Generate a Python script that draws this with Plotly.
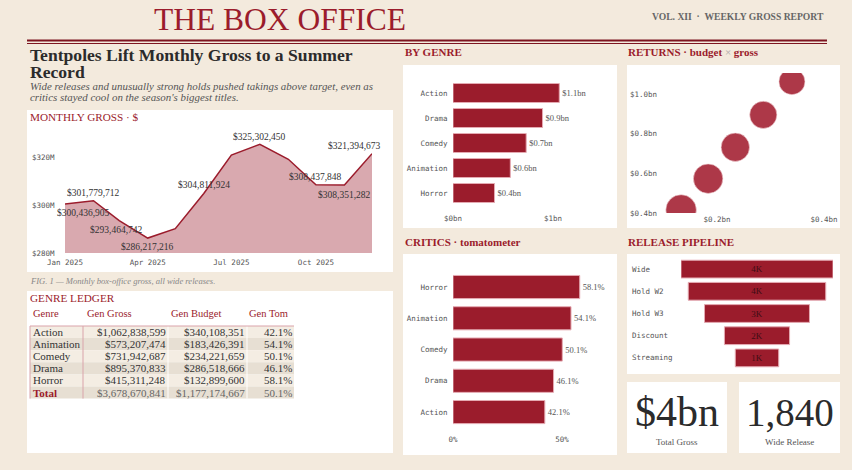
import plotly.graph_objects as go

W, H = 852, 470
SERIF = "Liberation Serif"
MONO = "DejaVu Sans Mono"
RED = "#9b1c2c"
BG = "#f3eadd"
INK = "#2b2b2b"
GREY = "#555555"

# ---------------- data ----------------
months = ["2025-01-01", "2025-02-01", "2025-03-01", "2025-04-01", "2025-05-01", "2025-06-01",
          "2025-07-01", "2025-08-01", "2025-09-01", "2025-10-01", "2025-11-01", "2025-12-01"]
monthly_gross = [300436905, 301779712, 293464742, 286217216, 290118540, 304811924,
                 320842310, 325302450, 319046520, 308437848, 308351282, 321394673]
labeled_months = [0, 1, 2, 3, 5, 7, 9, 10, 11]
monthly_ticks = [280e6, 300e6, 320e6]

genres = ["Action", "Animation", "Comedy", "Drama", "Horror"]
gen_gross = [1062838599, 573207474, 731942687, 895370833, 415311248]
gen_budget = [340108351, 183426391, 234221659, 286518666, 132899600]
gen_tom = [42.1, 54.1, 50.1, 46.1, 58.1]
ledger_headers = ["Genre", "Gen Gross", "Gen Budget", "Gen Tom"]

pipeline_stages = ["Wide", "Hold W2", "Hold W3", "Discount", "Streaming"]
pipeline_counts = [4200, 3800, 2900, 1800, 1200]

wide_release = 1840

# ---------------- helpers ----------------
def fx(x):
    return x / W


def fy(y):
    return 1 - y / H


def dom_x(a, b):
    return [a / W, b / W]


def dom_y(top, bottom):
    return [1 - bottom / H, 1 - top / H]


shapes = []
annotations = []


def rect(x0, y0, x1, y1, color="#ffffff"):
    shapes.append(dict(type="rect", xref="paper", yref="paper", x0=fx(x0), x1=fx(x1),
                       y0=fy(y1), y1=fy(y0), fillcolor=color, line=dict(width=0), layer="below"))


def hline(x0, x1, y, color, width):
    shapes.append(dict(type="line", xref="paper", yref="paper", x0=fx(x0), x1=fx(x1),
                       y0=fy(y), y1=fy(y), line=dict(color=color, width=width)))


def vline(x, y0, y1, color, width):
    shapes.append(dict(type="line", xref="paper", yref="paper", x0=fx(x), x1=fx(x),
                       y0=fy(y0), y1=fy(y1), line=dict(color=color, width=width)))


def text(x, y, s, size, color=INK, family=SERIF, xanchor="left", yanchor="middle", align="left"):
    if xanchor == "left":
        x -= 2
    elif xanchor == "right":
        x += 2
    annotations.append(dict(xref="paper", yref="paper", x=fx(x), y=fy(y), text=s, showarrow=False,
                            xanchor=xanchor, yanchor=yanchor, align=align, borderpad=0,
                            font=dict(family=family, size=size, color=color)))


# ---------------- panels ----------------
rect(27, 110, 393, 272)
rect(27, 291, 393, 453)
rect(403, 65, 617, 228)
rect(627, 65, 840, 228)
rect(403, 254, 617, 455)
rect(627, 254, 840, 374)
rect(627, 382, 727, 453)
rect(739, 382, 840, 453)

# masthead
text(280, 19, "THE BOX OFFICE", 31.5, RED, xanchor="center")
text(823, 16, "<b>VOL. XII  ·  WEEKLY GROSS REPORT</b>", 9.6, "#666666", xanchor="right")
hline(27, 827, 40.5, "#7d1420", 2.2)
hline(27, 827, 43.5, "#7d1420", 1)

text(31, 55, "<b>Tentpoles Lift Monthly Gross to a Summer</b>", 17.6, INK)
text(31, 72, "<b>Record</b>", 17.6, INK)
text(31, 85.5, "<i>Wide releases and unusually strong holds pushed takings above target, even as</i>",
     10.9, GREY)
text(31, 96.5, "<i>critics stayed cool on the season's biggest titles.</i>", 10.9, GREY)

text(31, 117, "MONTHLY GROSS · $", 11.2, RED)
text(31, 281, "<i>FIG. 1 — Monthly box-office gross, all wide releases.</i>", 8.6, "#888888")
text(31, 298, "GENRE LEDGER", 11.2, RED)
text(406, 52, "<b>BY GENRE</b>", 11, RED)
text(629, 52, "<b>RETURNS · budget </b><span style='color:#b0a8a8'>×</span><b> gross</b>", 11, RED)
text(406, 242, "<b>CRITICS · tomatometer</b>", 11, RED)
text(629, 242, "<b>RELEASE PIPELINE</b>", 11, RED)

# KPI cards
total_gross = sum(gen_gross)
text(677, 412, f"${total_gross / 1e9:.0f}bn", 42, INK, xanchor="center")
text(677, 442, "Total Gross", 9, GREY, xanchor="center")
text(789.5, 412, f"{wide_release:,}", 39, INK, xanchor="center")
text(789.5, 442, "Wide Release", 9, GREY, xanchor="center")

traces = []

# ---------------- monthly gross ----------------
traces.append(go.Scatter(x=months, y=monthly_gross, mode="lines", fill="tozeroy",
                         fillcolor="rgba(155,28,44,0.38)", line=dict(color=RED, width=1.5),
                         xaxis="x", yaxis="y", hoverinfo="skip"))
label_shift = {0: (18, -9), 1: (0, 8), 2: (-3, -9), 3: (0, -9), 5: (0, 8), 7: (0, 7),
               9: (0, 8), 10: (0, -10), 11: (-18, 8)}
for i in labeled_months:
    dx, dy = label_shift[i]
    annotations.append(dict(xref="x", yref="y", x=months[i], y=monthly_gross[i],
                            text=f"${monthly_gross[i]:,}", showarrow=False,
                            xshift=dx, yshift=dy, font=dict(family=SERIF, size=9.5, color="#333333")))

# ---------------- by genre ----------------
order_g = sorted(range(len(genres)), key=lambda i: -gen_gross[i])
bg_names = [genres[i] for i in order_g]
bg_vals = [gen_gross[i] for i in order_g]
traces.append(go.Bar(y=bg_names, x=bg_vals, orientation="h", width=0.76,
                     marker=dict(color=RED, line=dict(color="#e4aab2", width=1)),
                     text=[f"${v / 1e9:.1f}bn" for v in bg_vals], textposition="outside",
                     textfont=dict(family=SERIF, size=8.5, color=GREY), cliponaxis=False,
                     xaxis="x2", yaxis="y2", hoverinfo="skip"))

# ---------------- returns ----------------
traces.append(go.Scatter(x=gen_budget, y=gen_gross, mode="markers",
                         marker=dict(size=gen_tom, sizemode="area", sizeref=58.1 / 29 ** 2 * 1.8,
                                     color="#ad3848", opacity=1, line=dict(color="#f3d6da", width=0.6)),
                         xaxis="x3", yaxis="y3", hoverinfo="skip"))

# ---------------- critics ----------------
order_c = sorted(range(len(genres)), key=lambda i: -gen_tom[i])
cr_names = [genres[i] for i in order_c]
cr_vals = [gen_tom[i] for i in order_c]
traces.append(go.Bar(y=cr_names, x=cr_vals, orientation="h", width=0.74,
                     marker=dict(color=RED, line=dict(color="#e4aab2", width=1)),
                     text=[f"{v:.1f}%" for v in cr_vals], textposition="outside",
                     textfont=dict(family=SERIF, size=8.5, color=GREY), cliponaxis=False,
                     xaxis="x4", yaxis="y4", hoverinfo="skip"))

# ---------------- pipeline ----------------
traces.append(go.Funnel(y=pipeline_stages, x=pipeline_counts,
                        text=[f"{round(v / 1000)}K" for v in pipeline_counts], textinfo="text",
                        textposition="inside", insidetextanchor="middle",
                        textfont=dict(family=SERIF, size=9, color="#3e0c14"),
                        insidetextfont=dict(family=SERIF, size=9, color="#3e0c14"),
                        marker=dict(color=RED, line=dict(color="#e4aab2", width=1)),
                        connector=dict(visible=False), xaxis="x5", yaxis="y5", hoverinfo="skip"))
for s in pipeline_stages:
    annotations.append(dict(xref="paper", yref="y5", x=fx(629.5), y=s, text=s, showarrow=False,
                            xanchor="left", font=dict(family=MONO, size=7.5, color=GREY)))

# ---------------- ledger table (built from the genre arrays) ----------------
rows_n = len(genres)
col_genre = genres + ["<b>Total</b>"]
col_gross = [f"${v:,}" for v in gen_gross] + [f"${sum(gen_gross):,}"]
col_budget = [f"${v:,}" for v in gen_budget] + [f"${sum(gen_budget):,}"]
col_tom = [f"{v:.1f}%" for v in gen_tom] + [f"{sum(gen_tom) / rows_n:.1f}%"]
columns = [col_genre, col_gross, col_budget, col_tom]
col_edges = [30, 83, 168, 247, 294]
col_align = ["left", "right", "right", "right"]
header_x = [34, 88, 172, 250]
row_top, row_h = 326, 12.1
for r in range(rows_n + 1):
    y0 = row_top + r * row_h
    rect(30, y0, 294, y0 + row_h, "#f4ede3" if r % 2 == 0 else "#e7dfd3")
for c, head in enumerate(ledger_headers):
    text(header_x[c], 313, head, 10.5, RED)
    for r, val in enumerate(columns[c]):
        yc = row_top + (r + 0.5) * row_h
        is_total = r == rows_n
        color = (RED if c == 0 else "#666666") if is_total else "#333333"
        if col_align[c] == "left":
            text(col_edges[c] + 4, yc, val, 11, color)
        else:
            text(col_edges[c + 1] - 3, yc, val, 11, color, xanchor="right")
for xe in col_edges[2:4]:
    vline(xe, row_top, row_top + (rows_n + 1) * row_h, "#ffffff", 1)
hline(30, 294, row_top, "#d9a3aa", 1)
vline(83, row_top, row_top + (rows_n + 1) * row_h, "#d9a3aa", 1)
vline(30, row_top, row_top + (rows_n + 1) * row_h, "#d9a3aa", 1)

tickfont = dict(family=MONO, size=7.5, color=GREY)
hidden = dict(showgrid=False, zeroline=False, showline=False, automargin=False)

layout = go.Layout(
    width=W, height=H, margin=dict(l=0, r=0, t=0, b=0, autoexpand=False), paper_bgcolor=BG,
    plot_bgcolor="rgba(0,0,0,0)", showlegend=False, shapes=shapes, annotations=annotations,
    xaxis=dict(domain=dom_x(65, 372), anchor="y", type="date", range=[months[0], months[-1]], dtick="M3",
               tick0=months[0], tickformat="%b %Y", tickfont=tickfont, ticks="outside", ticklen=2,
               tickcolor="rgba(0,0,0,0)", **hidden),
    yaxis=dict(domain=dom_y(128, 253), anchor="x", range=[280e6, 332.1e6], tickvals=monthly_ticks,
               ticktext=[f"${v / 1e6:.0f}M" for v in monthly_ticks], tickfont=tickfont,
               ticks="outside", ticklen=8, tickcolor="rgba(0,0,0,0)", **hidden),
    xaxis2=dict(domain=dom_x(453, 603), anchor="y2", range=[0, 1.5e9], tickvals=[0, 1e9],
                ticktext=["$0bn", "$1bn"], tickfont=tickfont, **hidden),
    yaxis2=dict(domain=dom_y(80.5, 212), anchor="x2", type="category", categoryorder="array",
                categoryarray=bg_names, range=[4.76, -0.5], tickfont=tickfont, ticks="outside",
                ticklen=3, tickcolor="rgba(0,0,0,0)", **hidden),
    xaxis3=dict(domain=dom_x(663.5, 824), anchor="y3", range=[1e8, 4e8], tickvals=[2e8, 4e8],
                ticktext=["$0.2bn", "$0.4bn"], tickfont=tickfont, **hidden),
    yaxis3=dict(domain=dom_y(73, 213), anchor="x3", range=[4e8, 1.1066e9], tickvals=[4e8, 6e8, 8e8, 1e9],
                ticktext=["$0.4bn", "$0.6bn", "$0.8bn", "$1.0bn"], tickfont=tickfont,
                ticks="outside", ticklen=4, tickcolor="rgba(0,0,0,0)", **hidden),
    xaxis4=dict(domain=dom_x(453, 607), anchor="y4", range=[0, 70.6], tickvals=[0, 50],
                ticktext=["0%", "50%"], tickfont=tickfont, **hidden),
    yaxis4=dict(domain=dom_y(271.4, 433), anchor="x4", type="category", categoryorder="array",
                categoryarray=cr_names, range=[4.67, -0.5], tickfont=tickfont, ticks="outside",
                ticklen=3, tickcolor="rgba(0,0,0,0)", **hidden),
    xaxis5=dict(domain=dom_x(681, 833), anchor="y5", range=[-2100, 2100], visible=False),
    yaxis5=dict(domain=dom_y(258, 369), anchor="x5", type="category", categoryorder="array",
                categoryarray=pipeline_stages, autorange="reversed", visible=False),
)

fig = go.Figure(data=traces, layout=layout)
fig.write_html("out.html", config={"displayModeBar": False})
